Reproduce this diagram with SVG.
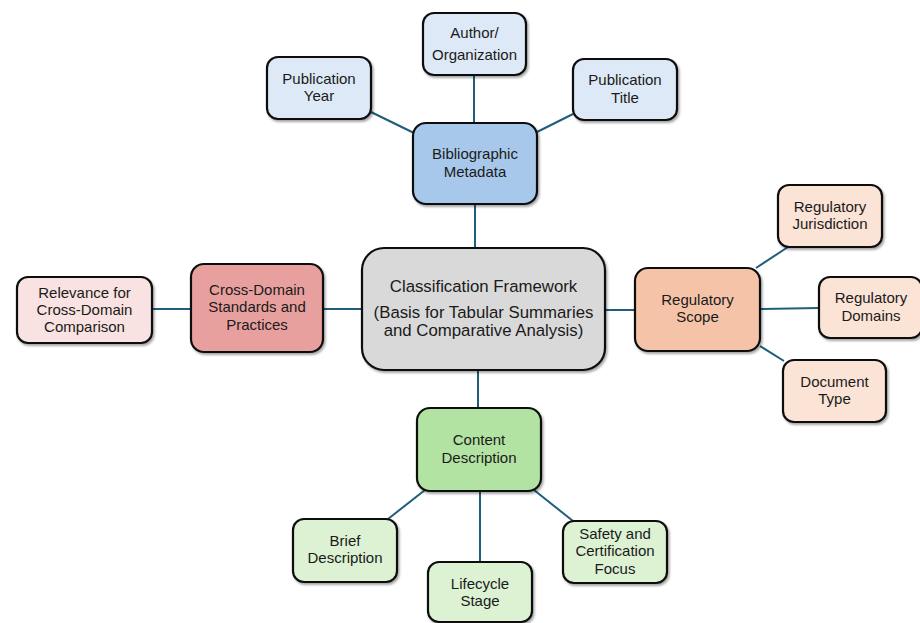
<svg xmlns="http://www.w3.org/2000/svg" width="920" height="623" viewBox="0 0 920 623">
  <defs>
    <filter id="shadow" x="-10%" y="-10%" width="125%" height="130%">
      <feDropShadow dx="1.5" dy="2" stdDeviation="1.2" flood-color="#000" flood-opacity="0.35"/>
    </filter>
  </defs>
  <style>
    .box { stroke: #111; stroke-width: 2.2; filter: url(#shadow); }
    .bib-leaf { fill: #dde9f6; }
    .bib { fill: #a7c8ea; }
    .core { fill: #d9d9d9; }
    .reg { fill: #f5c4a8; }
    .reg-leaf { fill: #fbe3d6; }
    .cross { fill: #e8a09f; }
    .cross-leaf { fill: #f9e2e2; }
    .content { fill: #b3e3a2; }
    .content-leaf { fill: #dcf2d3; }
    text { font-family: "Liberation Sans", Arial, sans-serif; font-size: 15px; fill: #1a1a1a; text-anchor: middle; }
    .big { font-size: 16.8px; }
    .link { stroke: #1f5e7b; stroke-width: 2; fill: none; }
  </style>
  <rect width="920" height="623" fill="#ffffff"/>

  <g id="connectors">
    <line class="link" x1="371" y1="112" x2="414" y2="133"/>
    <line class="link" x1="474" y1="75" x2="474" y2="123"/>
    <line class="link" x1="573" y1="114" x2="537" y2="132"/>
    <line class="link" x1="475" y1="204" x2="475" y2="248"/>
    <line class="link" x1="605" y1="310" x2="635" y2="310"/>
    <line class="link" x1="756" y1="268" x2="788" y2="247"/>
    <line class="link" x1="760" y1="309" x2="819" y2="308"/>
    <line class="link" x1="760" y1="346" x2="784" y2="361"/>
    <line class="link" x1="362" y1="309" x2="323" y2="309"/>
    <line class="link" x1="191" y1="309" x2="152" y2="309"/>
    <line class="link" x1="478" y1="370" x2="478" y2="408"/>
    <line class="link" x1="425" y1="490" x2="388" y2="519"/>
    <line class="link" x1="480" y1="491" x2="480" y2="562"/>
    <line class="link" x1="534" y1="490" x2="573" y2="521"/>
  </g>

  <g id="author-organization">
    <rect class="box bib-leaf" x="423" y="13" width="103" height="62" rx="11"/>
    <text x="474.5" y="38">Author/</text>
    <text x="474.5" y="60">Organization</text>
  </g>
  <g id="publication-year">
    <rect class="box bib-leaf" x="267" y="57" width="104" height="62" rx="11"/>
    <text x="319" y="84">Publication</text>
    <text x="319" y="101">Year</text>
  </g>
  <g id="publication-title">
    <rect class="box bib-leaf" x="573" y="59" width="104" height="61" rx="11"/>
    <text x="625" y="85">Publication</text>
    <text x="625" y="103">Title</text>
  </g>
  <g id="bibliographic-metadata">
    <rect class="box bib" x="413" y="123" width="124" height="81" rx="13"/>
    <text x="475" y="159">Bibliographic</text>
    <text x="475" y="177">Metadata</text>
  </g>

  <g id="classification-framework">
    <rect class="box core" x="362" y="248" width="243" height="122" rx="22"/>
    <text class="big" x="483.5" y="292">Classification Framework</text>
    <text class="big" x="483.5" y="318">(Basis for Tabular Summaries</text>
    <text class="big" x="483.5" y="336">and Comparative Analysis)</text>
  </g>

  <g id="regulatory-scope">
    <rect class="box reg" x="635" y="268" width="125" height="83" rx="13"/>
    <text x="697.5" y="305">Regulatory</text>
    <text x="697.5" y="322">Scope</text>
  </g>
  <g id="regulatory-jurisdiction">
    <rect class="box reg-leaf" x="778" y="185" width="104" height="62" rx="11"/>
    <text x="830" y="212">Regulatory</text>
    <text x="830" y="229">Jurisdiction</text>
  </g>
  <g id="regulatory-domains">
    <rect class="box reg-leaf" x="819" y="277" width="103" height="61" rx="11"/>
    <text x="871" y="303">Regulatory</text>
    <text x="871" y="321">Domains</text>
  </g>
  <g id="document-type">
    <rect class="box reg-leaf" x="783" y="360" width="103" height="62" rx="11"/>
    <text x="834.5" y="387">Document</text>
    <text x="834.5" y="404">Type</text>
  </g>

  <g id="cross-domain-standards">
    <rect class="box cross" x="191" y="264" width="132" height="88" rx="13"/>
    <text x="257" y="295">Cross-Domain</text>
    <text x="257" y="312">Standards and</text>
    <text x="257" y="330">Practices</text>
  </g>
  <g id="cross-domain-relevance">
    <rect class="box cross-leaf" x="17" y="277" width="135" height="66" rx="11"/>
    <text x="84.5" y="298">Relevance for</text>
    <text x="84.5" y="315">Cross-Domain</text>
    <text x="84.5" y="332">Comparison</text>
  </g>

  <g id="content-description">
    <rect class="box content" x="417" y="408" width="124" height="83" rx="13"/>
    <text x="479" y="445">Content</text>
    <text x="479" y="463">Description</text>
  </g>
  <g id="brief-description">
    <rect class="box content-leaf" x="293" y="519" width="104" height="63" rx="11"/>
    <text x="345" y="546">Brief</text>
    <text x="345" y="563">Description</text>
  </g>
  <g id="lifecycle-stage">
    <rect class="box content-leaf" x="428" y="562" width="104" height="60" rx="11"/>
    <text x="480" y="589">Lifecycle</text>
    <text x="480" y="606">Stage</text>
  </g>
  <g id="safety-certification">
    <rect class="box content-leaf" x="563" y="521" width="104" height="62" rx="11"/>
    <text x="615" y="539">Safety and</text>
    <text x="615" y="556">Certification</text>
    <text x="615" y="574">Focus</text>
  </g>
</svg>
